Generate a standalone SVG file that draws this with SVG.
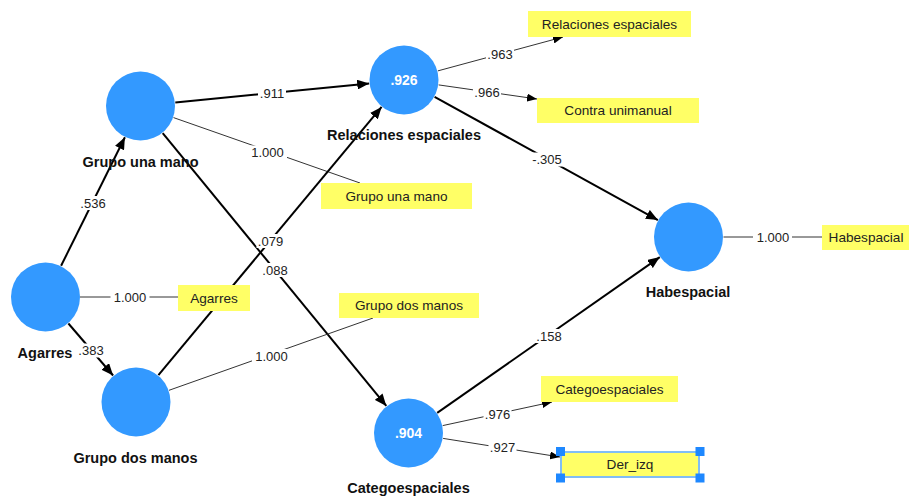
<svg xmlns="http://www.w3.org/2000/svg" width="909" height="497" viewBox="0 0 909 497">
<style>
.bg{fill:#ffffff}
.lv{fill:#3399ff}
.ind{fill:#ffff66}
.thick{stroke:#000;stroke-width:2;fill:none}
.thin{stroke:#333;stroke-width:1;fill:none}
.lbg{fill:#ffffff}
.lbl{font-family:"Liberation Sans",Arial,sans-serif;font-size:13px;fill:#222;text-anchor:middle}
.name{font-family:"Liberation Sans",Arial,sans-serif;font-size:14.5px;font-weight:bold;fill:#111;text-anchor:middle}
.r2{font-family:"Liberation Sans",Arial,sans-serif;font-size:14px;font-weight:bold;fill:#fff;text-anchor:middle}
.itxt{font-family:"Liberation Sans",Arial,sans-serif;font-size:13.6px;fill:#222;text-anchor:middle}
.sel{fill:none;stroke:#80bdf5;stroke-width:2}
.hdl{fill:#1e88ff}
</style>
<defs>
<marker id="ah" markerUnits="userSpaceOnUse" markerWidth="12" markerHeight="10" refX="12" refY="5" orient="auto"><path d="M0,0 L12,5 L0,10 z" fill="#000"/></marker>
<marker id="ahs" markerUnits="userSpaceOnUse" markerWidth="10" markerHeight="8" refX="10" refY="4" orient="auto"><path d="M0,0 L10,4 L0,8 z" fill="#000"/></marker>
</defs>
<rect class="bg" x="0" y="0" width="909" height="497"/>

<g id="connectors">
<line class="thick" x1="61.1" y1="265.7" x2="124.9" y2="137.3" marker-end="url(#ah)"/>
<line class="thick" x1="68.4" y1="323.5" x2="113.1" y2="375.5" marker-end="url(#ah)"/>
<line class="thin" x1="80" y1="297" x2="178" y2="297"/>
<line class="thick" x1="175.3" y1="102.6" x2="369.2" y2="83.4" marker-end="url(#ah)"/>
<line class="thin" x1="173.5" y1="117.6" x2="360" y2="183"/>
<line class="thick" x1="162.7" y1="133.1" x2="386.3" y2="405.9" marker-end="url(#ah)"/>
<line class="thick" x1="158.4" y1="375.1" x2="381.6" y2="106.9" marker-end="url(#ah)"/>
<line class="thin" x1="169" y1="390.3" x2="373" y2="318"/>
<line class="thin" x1="437.8" y1="70.9" x2="563" y2="37" marker-end="url(#ahs)"/>
<line class="thin" x1="438.6" y1="84.9" x2="537" y2="99" marker-end="url(#ahs)"/>
<line class="thick" x1="434.6" y1="96.9" x2="657.9" y2="220.1" marker-end="url(#ah)"/>
<line class="thick" x1="437.2" y1="412.9" x2="659.8" y2="257.1" marker-end="url(#ah)"/>
<line class="thin" x1="442.7" y1="425.6" x2="552" y2="402" marker-end="url(#ahs)"/>
<line class="thin" x1="443.1" y1="438.4" x2="560" y2="457" marker-end="url(#ahs)"/>
<line class="thin" x1="723.5" y1="237" x2="822" y2="237"/>

<g id="labels">
<rect class="lbg" x="79" y="196" width="28" height="14"/><text class="lbl" x="93" y="207.5">.536</text>
<rect class="lbg" x="77" y="343.5" width="28" height="14"/><text class="lbl" x="91" y="355">.383</text>
<rect class="lbg" x="110.5" y="290" width="39" height="14"/><text class="lbl" x="130" y="301.5">1.000</text>
<rect class="lbg" x="258" y="86.5" width="28" height="14"/><text class="lbl" x="272" y="98">.911</text>
<rect class="lbg" x="248" y="145.5" width="39" height="14"/><text class="lbl" x="267.5" y="157">1.000</text>
<rect class="lbg" x="261" y="263" width="28" height="14"/><text class="lbl" x="275" y="274.5">.088</text>
<rect class="lbg" x="256.5" y="234" width="28" height="14"/><text class="lbl" x="270.5" y="245.5">.079</text>
<rect class="lbg" x="252" y="349" width="39" height="14"/><text class="lbl" x="271.5" y="360.5">1.000</text>
<rect class="lbg" x="486" y="47" width="28" height="14"/><text class="lbl" x="500" y="58.5">.963</text>
<rect class="lbg" x="473" y="85" width="28" height="14"/><text class="lbl" x="487" y="96.5">.966</text>
<rect class="lbg" x="530" y="152.5" width="34" height="14"/><text class="lbl" x="547" y="164">-.305</text>
<rect class="lbg" x="535" y="329" width="28" height="14"/><text class="lbl" x="549" y="340.5">.158</text>
<rect class="lbg" x="483.5" y="407" width="28" height="14"/><text class="lbl" x="497.5" y="418.5">.976</text>
<rect class="lbg" x="488.5" y="440.5" width="28" height="14"/><text class="lbl" x="502.5" y="452">.927</text>
<rect class="lbg" x="753" y="230.5" width="39" height="14"/><text class="lbl" x="773" y="242">1.000</text>
</g>
</g>

<g id="node-grupo-una-mano">
<circle class="lv" cx="140.5" cy="106" r="34.5"/>
<text class="name" x="140.5" y="167">Grupo una mano</text>
</g>
<g id="node-agarres">
<circle class="lv" cx="45.5" cy="297" r="34.5"/>
<text class="name" x="45" y="358">Agarres</text>
</g>
<g id="node-grupo-dos-manos">
<circle class="lv" cx="136" cy="402" r="34.5"/>
<text class="name" x="135.5" y="463">Grupo dos manos</text>
</g>
<g id="node-relaciones-espaciales">
<circle class="lv" cx="404" cy="80" r="34.5"/>
<text class="r2" x="404" y="85">.926</text>
<text class="name" x="404" y="140">Relaciones espaciales</text>
</g>
<g id="node-categoespaciales">
<circle class="lv" cx="408.5" cy="433" r="34.5"/>
<text class="r2" x="408.5" y="438">.904</text>
<text class="name" x="408.5" y="493">Categoespaciales</text>
</g>
<g id="node-habespacial">
<circle class="lv" cx="688.5" cy="237" r="34.5"/>
<text class="name" x="688" y="297">Habespacial</text>
</g>

<g id="ind-relaciones-espaciales">
<rect class="ind" x="528" y="11" width="163" height="26"/>
<text class="itxt" x="609.5" y="28.5">Relaciones espaciales</text>
</g>
<g id="ind-contra-unimanual">
<rect class="ind" x="537" y="98" width="162" height="25"/>
<text class="itxt" x="618" y="115">Contra unimanual</text>
</g>
<g id="ind-grupo-una-mano">
<rect class="ind" x="321" y="183" width="151" height="26"/>
<text class="itxt" x="396.5" y="200.5">Grupo una mano</text>
</g>
<g id="ind-agarres">
<rect class="ind" x="178" y="285" width="72" height="26"/>
<text class="itxt" x="214" y="302.5">Agarres</text>
</g>
<g id="ind-grupo-dos-manos">
<rect class="ind" x="339" y="293" width="140" height="25"/>
<text class="itxt" x="409" y="310">Grupo dos manos</text>
</g>
<g id="ind-habespacial">
<rect class="ind" x="822" y="225" width="90" height="25"/>
<text class="itxt" x="866" y="242">Habespacial</text>
</g>
<g id="ind-categoespaciales">
<rect class="ind" x="541" y="376" width="137" height="26"/>
<text class="itxt" x="609.5" y="393.5">Categoespaciales</text>
</g>
<g id="ind-der-izq">
<rect class="ind" x="560" y="451" width="140" height="27"/>
<rect class="sel" x="561" y="452" width="138" height="25"/>
<text class="itxt" x="630" y="469">Der_izq</text>
<rect class="hdl" x="556" y="447" width="9" height="9"/>
<rect class="hdl" x="695.5" y="447" width="9" height="9"/>
<rect class="hdl" x="556" y="473.5" width="9" height="9"/>
<rect class="hdl" x="695.5" y="473.5" width="9" height="9"/>
</g>
</svg>
